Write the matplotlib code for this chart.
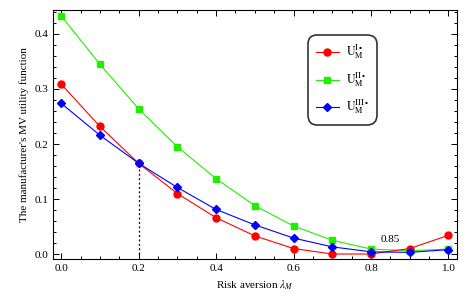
import matplotlib
matplotlib.use("Agg")
import matplotlib.pyplot as plt
from matplotlib.ticker import MultipleLocator

lam = [0.0, 0.1, 0.2, 0.3, 0.4, 0.5, 0.6, 0.7, 0.8, 0.9, 1.0]
u_I = [0.309, 0.232, 0.165, 0.110, 0.066, 0.033, 0.010, 0.000, 0.000, 0.010, 0.034]
u_II = [0.433, 0.345, 0.264, 0.195, 0.137, 0.088, 0.051, 0.025, 0.009, 0.006, 0.009]
u_III = [0.274, 0.216, 0.165, 0.121, 0.081, 0.053, 0.029, 0.013, 0.004, 0.003, 0.008]
labels = [r"$\mathrm{U}_{\mathrm{M}}^{\mathrm{I}\bullet}$",
          r"$\mathrm{U}_{\mathrm{M}}^{\mathrm{II}\bullet}$",
          r"$\mathrm{U}_{\mathrm{M}}^{\mathrm{III}\bullet}$"]
x_cross, y_cross = 0.2, 0.165
note_x, note_y, note_text = 0.85, 0.027, "0.85"

plt.rcParams['font.family'] = ['Liberation Serif', 'DejaVu Serif']
plt.rcParams['mathtext.fontset'] = 'stix'

fig = plt.figure(figsize=(4.73, 3.01), dpi=100)
ax = fig.add_axes([53/473, 1-258.7/301, (457-53)/473, (258.7-10)/301])

ax.plot(lam, u_I, '-o', color='#ff0000', lw=0.8, ms=5, label=labels[0], zorder=3)
ax.plot(lam, u_II, '-s', color='#22ee00', mfc='#22ee00', lw=0.8, ms=4.5, label=labels[1], zorder=2)
ax.plot(lam, u_III, '-D', color='#0000ff', lw=0.8, ms=4, label=labels[2], zorder=4)
ax.plot([x_cross, x_cross], [0, y_cross], ls=(0, (1.5, 2)), color='black', lw=0.9, zorder=1)
ax.text(note_x, note_y, note_text, fontsize=8, ha='center', va='center')

ax.set_xlim(-0.021, 1.022)
ax.set_ylim(-0.0085, 0.4436)
ax.xaxis.set_major_locator(MultipleLocator(0.2))
ax.xaxis.set_minor_locator(MultipleLocator(0.05))
ax.yaxis.set_major_locator(MultipleLocator(0.1))
ax.yaxis.set_minor_locator(MultipleLocator(0.02))
ax.tick_params(which='both', direction='in', top=True, right=True, labelsize=8, width=0.7)
ax.tick_params(which='major', length=4)
ax.tick_params(which='minor', length=2)
for s in ax.spines.values():
    s.set_linewidth(0.8)

ax.set_xlabel(r"Risk aversion $\lambda_M$", fontsize=8)
ax.set_ylabel("The manufacturer's MV utility function", fontsize=8)

leg = ax.legend(loc='upper left', bbox_to_anchor=((308-53)/404, 1-(35-10)/248.7),
                borderaxespad=0.0,
                fontsize=8.5, frameon=True, fancybox=True, edgecolor='black',
                handlelength=1.9, labelspacing=0.8, borderpad=0.7, handletextpad=0.6)
leg.get_frame().set_linewidth(1.2)
leg.get_frame().set_boxstyle('round', pad=0.0, rounding_size=0.8)

fig.savefig("out.png", dpi=100)
